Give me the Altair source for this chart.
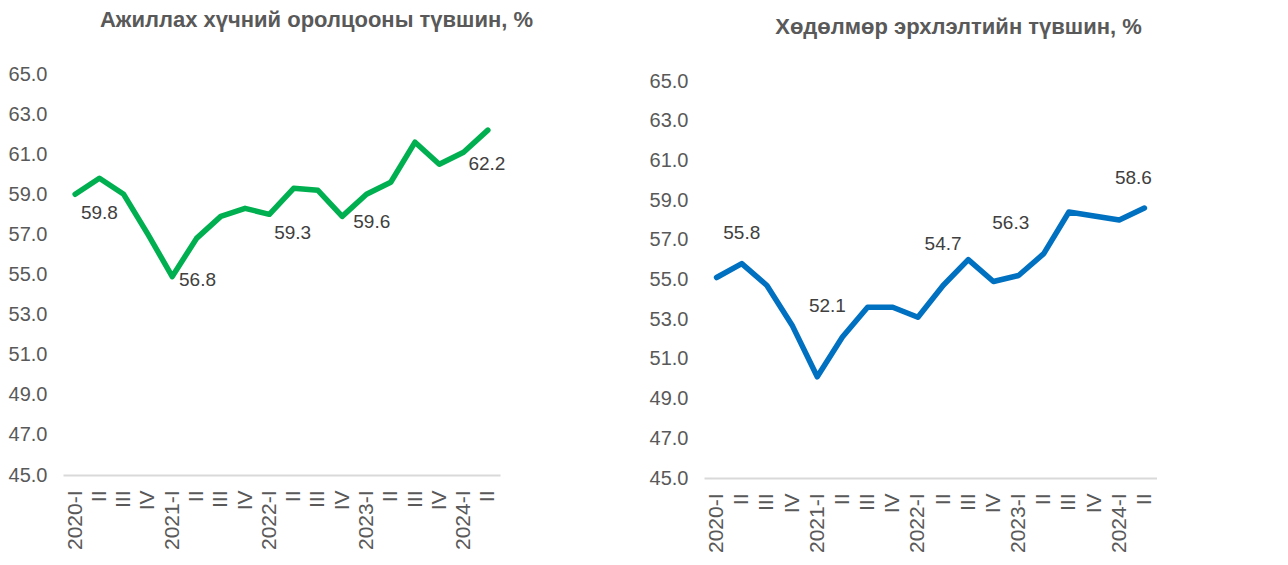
import altair as alt
import pandas as pd

# ---- data -------------------------------------------------------------
quarter_keys = [
    "2020-I", "2020-II", "2020-III", "2020-IV",
    "2021-I", "2021-II", "2021-III", "2021-IV",
    "2022-I", "2022-II", "2022-III", "2022-IV",
    "2023-I", "2023-II", "2023-III", "2023-IV",
    "2024-I", "2024-II",
]
participation = [59.0, 59.8, 59.0, 57.0, 54.9, 56.8, 57.9, 58.3, 58.0,
                 59.3, 59.2, 57.9, 59.0, 59.6, 61.6, 60.5, 61.1, 62.2]
employment = [55.1, 55.8, 54.7, 52.7, 50.1, 52.1, 53.6, 53.6, 53.1,
              54.7, 56.0, 54.9, 55.2, 56.3, 58.4, 58.2, 58.0, 58.6]
title_left = "Ажиллах хүчний оролцооны түвшин, %"
title_right = "Хөдөлмөр эрхлэлтийн түвшин, %"
y_ticks = [45, 47, 49, 51, 53, 55, 57, 59, 61, 63, 65]

FONT = "Liberation Sans"
AXIS_GREY = "#595959"
LABEL_GREY = "#404040"


def panel(values, color, title, w, h, top_pad, title_dx, offsets):
    df = pd.DataFrame({"q": quarter_keys, "v": values, "i": list(range(len(values)))})
    base = alt.Chart(df)
    x = alt.X(
        "q:N", sort=quarter_keys,
        scale=alt.Scale(type="point", padding=0.5),
        axis=alt.Axis(
            title=None, labelAngle=-90, ticks=False,
            labelExpr="split(datum.label, '-')[1] == 'I' ? datum.label : split(datum.label, '-')[1]",
            domainColor="#D9D9D9", domainWidth=2,
            labelFontSize=21, labelColor=AXIS_GREY, labelFont=FONT, labelPadding=15,
        ),
    )
    y = alt.Y(
        "v:Q",
        scale=alt.Scale(domain=[45, 65], range=[h, top_pad], nice=False, zero=False),
        axis=alt.Axis(
            title=None, values=y_ticks, format=".1f", domain=False, ticks=False, grid=False,
            labelFontSize=20, labelColor=AXIS_GREY, labelFont=FONT, labelPadding=16,
        ),
    )
    layers = [
        base.mark_line(color=color, strokeWidth=5.5, strokeJoin="round", strokeCap="round")
        .encode(x=x, y=y)
    ]
    for idx, (dx, dy) in offsets.items():
        layers.append(
            base.transform_filter(f"datum.i == {idx}")
            .mark_text(dx=dx, dy=dy, fontSize=19, color=LABEL_GREY, font=FONT)
            .encode(x=x, y=y, text=alt.Text("v:Q", format=".1f"))
        )
    return alt.layer(*layers).properties(
        width=w, height=h,
        title=alt.TitleParams(title, dx=title_dx, anchor="middle", font=FONT, fontSize=22,
                              fontWeight="bold", color=AXIS_GREY, offset=32),
    )


left = panel(participation, "#00B050", title_left, 437, 401, 0, 35,
             {1: (0, 35), 5: (1, 42), 9: (-1, 45), 13: (-19, 40), 17: (-1, 34)})
right = panel(employment, "#0070C0", title_right, 453, 404, 7, 28,
              {1: (0, -31), 5: (-15, -31), 9: (0, -41), 13: (-33, -31), 17: (-11, -30)})

chart = (
    alt.hconcat(left, right, spacing=115)
    .properties(padding={"top": 1, "left": 0, "right": 0, "bottom": 0})
    .configure_view(stroke=None)
)

chart.save("out.html", embed_options={"renderer": "svg", "actions": False})
